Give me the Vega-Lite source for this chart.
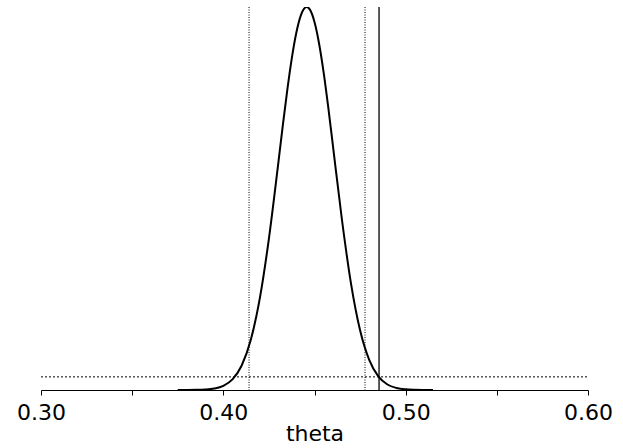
{
  "$schema": "https://vega.github.io/schema/vega-lite/v6.json",
  "width": 547,
  "height": 383,
  "autosize": "none",
  "padding": {"left": 41, "top": 7, "right": 35, "bottom": 58},
  "background": "white",
  "config": {"view": {"stroke": null}},
  "datasets": {
    "curve": [
      {"theta": 0.375, "density": 0.0},
      {"theta": 0.380, "density": 0.002},
      {"theta": 0.385, "density": 0.009},
      {"theta": 0.390, "density": 0.032},
      {"theta": 0.395, "density": 0.101},
      {"theta": 0.400, "density": 0.286},
      {"theta": 0.405, "density": 0.728},
      {"theta": 0.410, "density": 1.665},
      {"theta": 0.415, "density": 3.41},
      {"theta": 0.420, "density": 6.28},
      {"theta": 0.425, "density": 10.38},
      {"theta": 0.430, "density": 15.40},
      {"theta": 0.4325, "density": 18.0},
      {"theta": 0.435, "density": 20.49},
      {"theta": 0.4375, "density": 22.70},
      {"theta": 0.440, "density": 24.47},
      {"theta": 0.4425, "density": 25.68},
      {"theta": 0.4457, "density": 26.25},
      {"theta": 0.4475, "density": 26.07},
      {"theta": 0.450, "density": 25.22},
      {"theta": 0.4525, "density": 23.75},
      {"theta": 0.455, "density": 21.77},
      {"theta": 0.4575, "density": 19.42},
      {"theta": 0.460, "density": 16.86},
      {"theta": 0.465, "density": 11.72},
      {"theta": 0.470, "density": 7.31},
      {"theta": 0.475, "density": 4.09},
      {"theta": 0.480, "density": 2.06},
      {"theta": 0.485, "density": 0.93},
      {"theta": 0.490, "density": 0.375},
      {"theta": 0.495, "density": 0.137},
      {"theta": 0.500, "density": 0.044},
      {"theta": 0.505, "density": 0.013},
      {"theta": 0.510, "density": 0.003},
      {"theta": 0.515, "density": 0.0}
    ],
    "dotted_vlines": [
      {"theta": 0.4141},
      {"theta": 0.4777}
    ],
    "solid_vline": [
      {"theta": 0.4854}
    ],
    "hline": [
      {"theta": 0.30, "theta2": 0.60, "density": 0.9}
    ]
  },
  "encoding": {
    "x": {
      "field": "theta",
      "type": "quantitative",
      "scale": {"domain": [0.30, 0.60], "nice": false, "zero": false},
      "axis": {
        "title": "theta",
        "values": [0.30, 0.35, 0.40, 0.45, 0.50, 0.55, 0.60],
        "labelExpr": "indexof(['0.30','0.40','0.50','0.60'], format(datum.value, '.2f')) >= 0 ? format(datum.value, '.2f') : ''",
        "grid": false,
        "domainColor": "black",
        "domainWidth": 1,
        "tickColor": "black",
        "tickWidth": 1,
        "tickSize": 5,
        "labelFont": "DejaVu Sans",
        "labelFontSize": 22,
        "labelColor": "black",
        "labelPadding": 7,
        "labelOverlap": false,
        "labelFlush": false,
        "titleFont": "DejaVu Sans",
        "titleFontSize": 22,
        "titleFontWeight": "normal",
        "titleColor": "black",
        "titlePadding": 0
      }
    }
  },
  "layer": [
    {
      "data": {"name": "curve"},
      "mark": {"type": "line", "color": "black", "strokeWidth": 2, "interpolate": "monotone", "clip": true},
      "encoding": {
        "y": {
          "field": "density",
          "type": "quantitative",
          "scale": {"domain": [0, 26.25], "nice": false, "zero": true},
          "axis": null
        }
      }
    },
    {
      "data": {"name": "dotted_vlines"},
      "mark": {"type": "rule", "color": "black", "strokeWidth": 1, "strokeDash": [1, 1.5]},
      "encoding": {}
    },
    {
      "data": {"name": "solid_vline"},
      "mark": {"type": "rule", "color": "black", "strokeWidth": 1.3},
      "encoding": {}
    },
    {
      "data": {"name": "hline"},
      "mark": {"type": "rule", "color": "black", "strokeWidth": 1, "strokeDash": [2, 2]},
      "encoding": {
        "x2": {"field": "theta2"},
        "y": {"field": "density", "type": "quantitative", "axis": null}
      }
    }
  ]
}
